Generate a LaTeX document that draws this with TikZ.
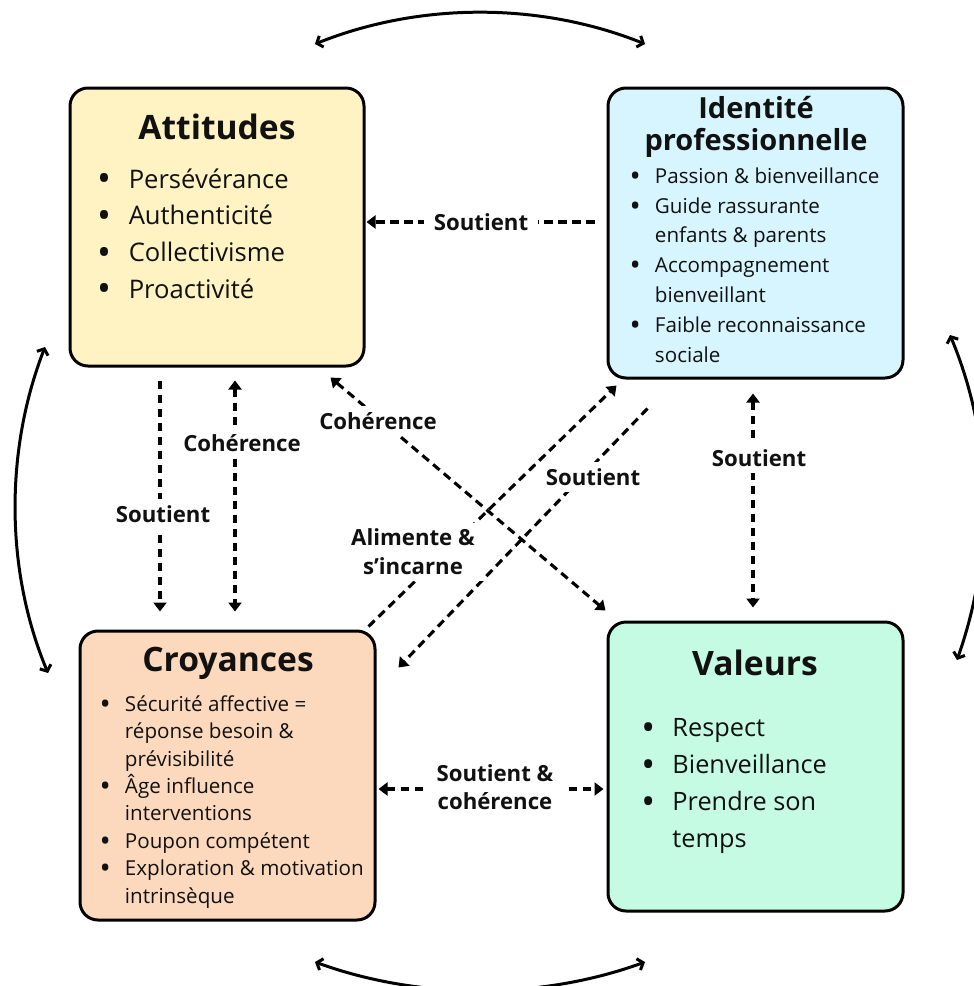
\documentclass[tikz,border=0pt]{standalone}
\usepackage{fontspec}
\setmainfont{Open Sans}
\usetikzlibrary{arrows.meta,calc}

\definecolor{attfill}{HTML}{FFF3C4}
\definecolor{idnfill}{HTML}{D7F5FF}
\definecolor{croyfill}{HTML}{FCD9BD}
\definecolor{valfill}{HTML}{C4FBE2}
\definecolor{ink}{HTML}{111111}

% bullet item and continuation line inside a list node
\newcommand\bul{\makebox[0pt]{\raisebox{-0.14em}{\scalebox{1.45}{\textbullet}}}\hspace{0.96em}}
\newcommand\cont{\hspace*{0.96em}}

\begin{document}
\begin{tikzpicture}[x=1pt,y=-1pt,
  box/.style={draw=black, line width=3pt, rounded corners=18pt, inner sep=0pt},
  ttl/.style={text=ink, font=\bfseries\fontsize{33.6}{36}\selectfont, inner sep=0pt, align=center},
  listtxt/.style={text=ink, anchor=north west, inner sep=0pt, align=left},
  dlink/.style={line width=3.1pt, dash pattern=on 8.5pt off 5.5pt},
  tipA/.style={-{Triangle[length=9pt,width=13pt]}},
  tipB/.style={{Triangle[length=9pt,width=13pt]}-{Triangle[length=9pt,width=13pt]}},
  cycle/.style={line width=3pt, {Straight Barb[length=5pt,width=12pt]}-{Straight Barb[length=5pt,width=12pt]}},
  lbl/.style={fill=white, text=ink, font=\bfseries\fontsize{22.2}{28}\selectfont, align=center, inner xsep=10pt, inner ysep=6pt}
]
\useasboundingbox (0,0) rectangle (974,986);

% ---- the four boxes
\node[box, fill=attfill,  minimum width=294pt, minimum height=278pt] (att)  at (217,227)   {};
\node[box, fill=idnfill,  minimum width=295pt, minimum height=290pt] (idn)  at (755.5,233) {};
\node[box, fill=croyfill, minimum width=295pt, minimum height=289pt] (croy) at (227.5,775.5) {};
\node[box, fill=valfill,  minimum width=295pt, minimum height=289pt] (val)  at (755.5,766.5) {};

% ---- titles
\node[ttl] (attT)  at (217,127) {Attitudes};
\node[ttl, font=\bfseries\fontsize{29}{32}\selectfont] (idnT) at (756,127) {Identité\\professionnelle};
\node[ttl] (croyT) at (228,663) {Croyances};
\node[ttl] (valT)  at (755,663) {Valeurs};

% ---- lists
\node[listtxt, font=\fontsize{25.6}{36.7}\selectfont] (attL) at (104,162.3)
  {\strut\bul Persévérance\\\bul Authenticité\\\bul Collectivisme\\\bul Proactivité};
\node[listtxt, font=\fontsize{20.6}{29.8}\selectfont] (idnL) at (635,162.3)
  {\strut\bul Passion \& bienveillance\\\bul Guide rassurante\\\cont enfants \& parents\\\bul Accompagnement\\\cont bienveillant\\\bul Faible reconnaissance\\\cont sociale};
\node[listtxt, font=\fontsize{20.6}{27.4}\selectfont] (croyL) at (105,692)
  {\strut\bul Sécurité affective =\\\cont réponse besoin \&\\\cont prévisibilité\\\bul Âge influence\\\cont interventions\\\bul Poupon compétent\\\bul Exploration \& motivation\\\cont intrinsèque};
\node[listtxt, font=\fontsize{25.3}{37}\selectfont] (valL) at (648,710.5)
  {\strut\bul Respect\\\bul Bienveillance\\\bul Prendre son\\\cont temps};

% ---- cycle arrows around the four boxes
\coordinate (tl) at (315,44);   \coordinate (tr) at (645,44);
\coordinate (bl) at (315,962);  \coordinate (br) at (645,962);
\coordinate (lt) at (45,347);   \coordinate (lb) at (48,673);
\coordinate (rt) at (950,335);  \coordinate (rb) at (957,660);
\draw[cycle] (tl) .. controls (420,2) and (540,2) .. (tr);
\draw[cycle] (bl) .. controls (420,1000) and (540,1000) .. (br);
\draw[cycle] (lt) .. controls (5,450) and (5,570) .. (lb);
\draw[cycle] (rt) .. controls (994,440) and (994,555) .. (rb);

% ---- dashed relations between the boxes
\draw[dlink, tipA] ($(idn.west)+(-12,-11)$) -- ($(att.east)+(1,-5)$);
\draw[dlink, tipA] ($(att.south)+(-57,13)$) -- ($(croy.north)+(-67.5,-18)$);
\draw[dlink, tipB] ($(att.south)+(18,13)$) -- ($(croy.north)+(7.5,-18)$);
\draw[dlink, tipB] ($(att.south east)+(-35,10)$) -- ($(val.north west)+(-1,-10)$);
\draw[dlink, tipA] ($(croy.north east)+(-8,-3)$) -- ($(idn.south west)+(10,6)$);
\draw[dlink, tipA] ($(idn.south west)+(41,29)$) -- ($(croy.north east)+(22,38)$);
\draw[dlink, tipB] ($(idn.south)+(-2.5,14)$) -- ($(val.north)+(-2.5,-13)$);
\draw[dlink, tipB] ($(croy.east)+(2,13.5)$) -- ($(val.west)+(-3,22.5)$);

% ---- relation labels
\node[lbl] (l1) at (481,222) {Soutient};
\node[lbl] (l2) at (163,514) {Soutient};
\node[lbl] (l3) at (242,443) {Cohérence};
\node[lbl] (l4) at (378,421) {Cohérence};
\node[lbl, font=\bfseries\fontsize{22.2}{29}\selectfont] (l5) at (413,552) {Alimente \&\\s’incarne};
\node[lbl] (l6) at (593,477) {Soutient};
\node[lbl] (l7) at (759,458) {Soutient};
\node[lbl] (l8) at (495,787) {Soutient \&\\cohérence};
\end{tikzpicture}
\end{document}
